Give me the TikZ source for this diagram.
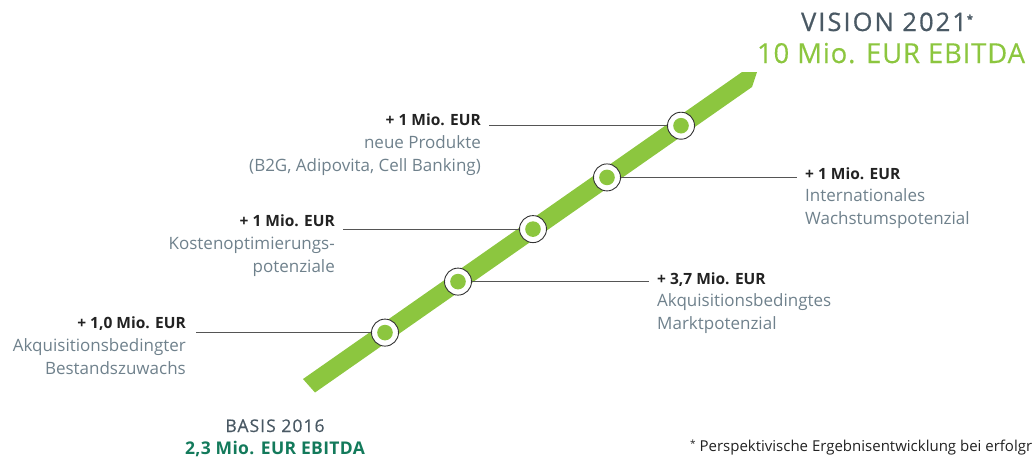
\documentclass[tikz,border=0pt]{standalone}
\usepackage{fontspec}
\setmainfont{Open Sans}
\usetikzlibrary{positioning, calc}
\definecolor{bandgreen}{HTML}{8CC63F}
\definecolor{titlegray}{HTML}{4A5964}
\definecolor{descgray}{HTML}{6F818C}
\definecolor{basegreen}{HTML}{137A5B}
\definecolor{amtblack}{HTML}{222222}
\definecolor{leadgray}{HTML}{555555}

\begin{document}
\begin{tikzpicture}[x=1pt, y=-1pt,
	stone/.style={circle, draw=black!80, line width=0.9pt, fill=white, minimum size=27pt, inner sep=0pt},
	leader/.style={draw=leadgray, line width=0.8pt},
	amount/.style={font=\fontsize{15.5}{23}\selectfont\bfseries, text=amtblack, inner sep=0pt},
	desc/.style={font=\fontsize{17}{23}\selectfont, text=descgray, inner sep=0pt},
	headline/.style={font=\fontsize{25.5}{28}\selectfont\addfontfeatures{LetterSpace=8, FakeBold=0.6}, inner sep=0pt, anchor=base}
]
\useasboundingbox (0,0) rectangle (1032,461);
% band
\fill[bandgreen] (303,379) -- (742,72) -- (757,72) -- (752,87) -- (315,392.5) -- cycle;
% milestones
\foreach \n/\cx/\cy in {1/681/125.7, 2/607/177.4, 3/533/229.1, 4/458/281.6, 5/385/332.6} {
	\node[stone] (m\n) at (\cx,\cy) {};
	\fill[bandgreen] (m\n) circle (7.8);
}
% left labels
\node[amount, anchor=base east] (a1) at (481,125) {+ 1 Mio. EUR};
\node[desc, anchor=base east, align=right] (d1) at ($(a1.base east)+(0,46)$) {neue Produkte\\(B2G, Adipovita, Cell Banking)};
\node[amount, anchor=base east] (a3) at (335,226) {+ 1 Mio. EUR};
\node[desc, anchor=base east, align=right] (d3) at ($(a3.base east)+(0,46)$) {Kostenoptimierungs-\\potenziale};
\node[amount, anchor=base east] (a5) at (186,328) {+ 1,0 Mio. EUR};
\node[desc, anchor=base east, align=right] (d5) at ($(a5.base east)+(0,46)$) {Akquisitionsbedingter\\Bestandszuwachs};
% right labels
\node[amount, anchor=base west] (a2) at (805,179) {+ 1 Mio. EUR};
\node[desc, anchor=base west, align=left] (d2) at ($(a2.base west)+(0,45)$) {Internationales\\Wachstumspotenzial};
\node[amount, anchor=base west] (a4) at (657,284) {+ 3,7 Mio. EUR};
\node[desc, anchor=base west, align=left] (d4) at ($(a4.base west)+(0,45)$) {Akquisitionsbedingtes\\Marktpotenzial};
% leaders
\draw[leader] (m1.west) -- ($(m1.west -| a1.east)+(8,0)$);
\draw[leader] (m3.west) -- ($(m3.west -| a3.east)+(8,0)$);
\draw[leader] (m5.west) -- ($(m5.west -| a5.east)+(10,0)$);
\draw[leader] (m2.east) -- ($(m2.east -| a2.west)+(-8,0)$);
\draw[leader] (m4.east) -- ($(m4.east -| a4.west)+(-8,0)$);
% goal and basis
\node[headline, text=titlegray] (vision) at (887,31) {VISION 2021\raisebox{8pt}{\fontsize{11}{11}\selectfont\bfseries*}};
\node[headline, text=bandgreen, font=\fontsize{27.5}{30}\selectfont\addfontfeatures{LetterSpace=3, FakeBold=0.3}] (goal) at (891,63) {10 Mio. EUR EBITDA};
\node[headline, text=titlegray, font=\fontsize{17.5}{20}\selectfont\addfontfeatures{LetterSpace=6, FakeBold=0.5}] (basis) at (275,432) {BASIS 2016};
\node[headline, text=basegreen, font=\fontsize{17.5}{20}\selectfont\bfseries\addfontfeatures{LetterSpace=2}] (start) at (275,454) {2,3 Mio. EUR EBITDA};
% footnote
\node[anchor=base west, inner sep=0pt, text=amtblack, font=\fontsize{15}{16}\selectfont] (note) at (690,451) {\raisebox{4pt}{\fontsize{10}{10}\selectfont*} Perspektivische Ergebnisentwicklung bei erfolgr};
\end{tikzpicture}
\end{document}
